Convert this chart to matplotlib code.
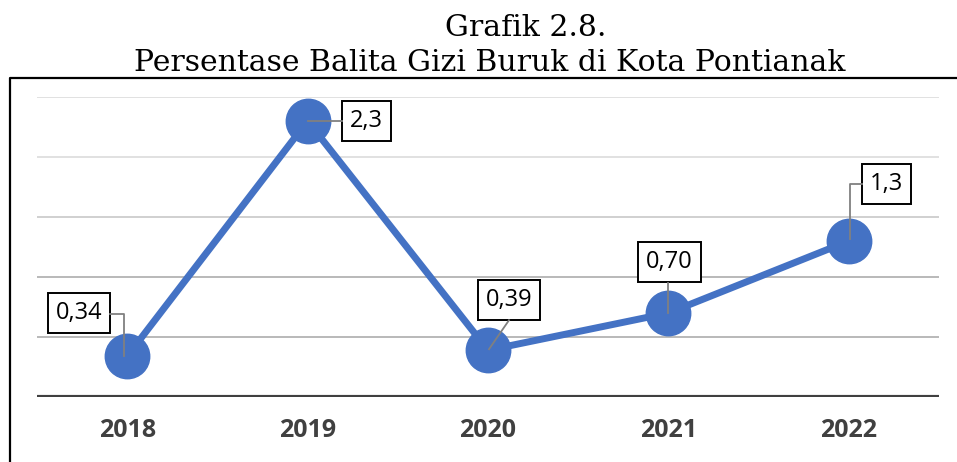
import matplotlib
matplotlib.use("Agg")
import matplotlib.pyplot as plt
from matplotlib.lines import Line2D
from matplotlib.transforms import IdentityTransform

years = ["2018", "2019", "2020", "2021", "2022"]
values = [0.34, 2.3, 0.39, 0.70, 1.3]
labels = ["0,34", "2,3", "0,39", "0,70", "1,3"]
grid_vals = [0.5, 1.0, 1.5, 2.0, 2.5]
grid_cols = ["#a6a6a6", "#a6a6a6", "#c4c4c4", "#d9d9d9", "#d9d9d9"]

# label box centre offsets (px, y up) and leader paths relative to the point
box_off = [(-48, 43), (59, 0), (21, 50), (1, 51), (38, 57)]
leaders = [
    [(-17, 42), (-3, 42), (-3, 0)],
    [(0, 0), (34, 0)],
    [(1, 1), (21, 30)],
    [(0, 30), (0, 0)],
    [(1, 2), (1, 57), (13, 57)],
]

W, H = 957, 462
fig = plt.figure(figsize=(W / 100, H / 100), dpi=100)
ax = fig.add_axes([37 / W, 65 / H, 902 / W, 300 / H])
ax.set_xlim(-0.5, 4.5)
ax.set_ylim(0, 2.5)

for v, c in zip(grid_vals, grid_cols):
    ax.axhline(v, color=c, lw=1.1, zorder=1)
ax.axhline(0, color="#404040", lw=3, zorder=2)

x = list(range(len(years)))
ax.plot(x, values, color="#4472C4", lw=5, marker="o", ms=32,
        solid_capstyle="round", zorder=3, clip_on=False)

for s in ax.spines.values():
    s.set_visible(False)
ax.set_yticks([])
ax.set_xticks(x)
ax.set_xticklabels(years, fontfamily="Open Sans", fontweight="bold",
                   fontsize=18, color="#404040")
ax.tick_params(axis="x", length=0, pad=15)

fig.canvas.draw()
for i, (xi, v) in enumerate(zip(x, values)):
    px, py = ax.transData.transform((xi, v))
    path = leaders[i]
    fig.add_artist(Line2D([px + dx for dx, dy in path], [py + dy for dx, dy in path],
                          transform=IdentityTransform(), color="#808080", lw=1.3,
                          zorder=5))
    ax.annotate(labels[i], (xi, v), xytext=box_off[i], textcoords="offset pixels",
                ha="center", va="center", fontsize=17, fontfamily="Open Sans",
                color="black", zorder=6, annotation_clip=False,
                bbox=dict(boxstyle="square,pad=0.33", fc="white", ec="black", lw=1.4))

# outer frame (runs off the right and bottom edges)
fig.add_artist(Line2D([10 / W, 10 / W, 1.0], [0, 1 - 78 / H, 1 - 78 / H],
                      transform=fig.transFigure, color="black", lw=1.6))

fig.text(526 / W, 1 - 36 / H, "Grafik 2.8.", ha="center", va="baseline",
         fontfamily="DejaVu Serif", fontsize=21.5)
fig.text(490 / W, 1 - 71 / H, "Persentase Balita Gizi Buruk di Kota Pontianak",
         ha="center", va="baseline", fontfamily="DejaVu Serif", fontsize=21.5)

fig.savefig("out.png", dpi=100)
